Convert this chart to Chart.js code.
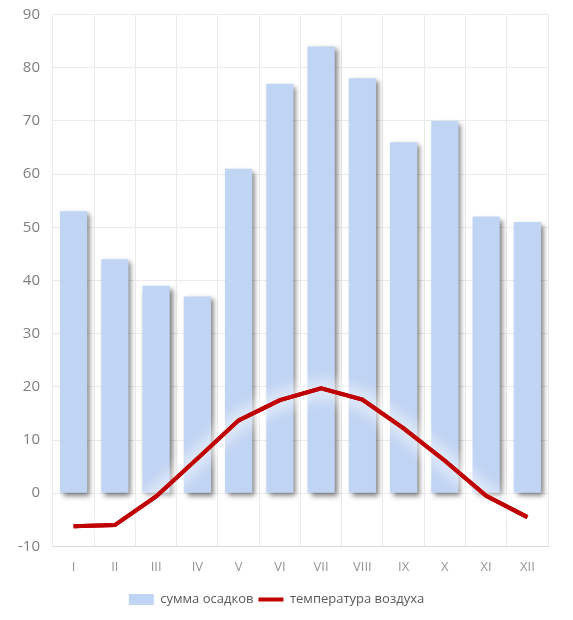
<!DOCTYPE html>
<html>
<head>
<meta charset="utf-8">
<script src="https://cdn.jsdelivr.net/npm/chart.js@4"></script>
<style>
  html, body { margin: 0; padding: 0; background: #fff; }
  #wrap { width: 573px; height: 620px; }
</style>
</head>
<body>
<div id="wrap"><canvas id="myChart" width="573" height="620"></canvas></div>
<script>
const months = ["I", "II", "III", "IV", "V", "VI", "VII", "VIII", "IX", "X", "XI", "XII"];
const precip = [53, 44, 39, 37, 61, 77, 84, 78, 66, 70, 52, 51];
const temp = [-6.2, -6.0, -0.6, 6.5, 13.7, 17.5, 19.7, 17.6, 12.2, 6.1, -0.5, -4.5];

// shadow under the bars, white glow round the line
const shadows = {
  id: "shadows",
  beforeDatasetDraw(chart, args) {
    const ctx = chart.ctx;
    ctx.save();
    if (args.meta.type === "bar") {
      ctx.shadowColor = "rgba(0,0,0,0.5)";
      ctx.shadowBlur = 5;
      ctx.shadowOffsetX = 3;
      ctx.shadowOffsetY = 3;
    } else {
      ctx.shadowColor = "rgba(255,255,255,1)";
      ctx.shadowBlur = 18;
      // extra passes make the glow stronger
      args.meta.controller.draw();
      args.meta.controller.draw();
    }
  },
  afterDatasetDraw(chart) {
    chart.ctx.restore();
  },
};

const ctx = document.getElementById("myChart");
var myChart = new Chart(ctx, {
  type: "bar",
  data: {
    labels: months,
    datasets: [
      {
        type: "bar",
        label: "сумма осадков",
        data: precip,
        backgroundColor: "#C0D4F4",
        borderColor: "#A8C0EC",
        borderWidth: 0, // a border clips the shadow away
        barPercentage: 0.66,
        categoryPercentage: 1,
        order: 2,
        pointStyle: "rect",
      },
      {
        type: "line",
        label: "температура воздуха",
        data: temp,
        borderColor: "#C00000",
        backgroundColor: "#C00000",
        borderWidth: 4,
        pointRadius: 0,
        tension: 0,
        order: 1,
        pointStyle: "line",
      },
    ],
  },
  options: {
    responsive: false,
    animation: false,
    layout: { padding: { left: 5, right: 25, top: 0, bottom: 4 } },
    scales: {
      y: {
        min: -10,
        max: 90,
        ticks: {
          stepSize: 10,
          color: "#7f7f7f",
          padding: 13,
          font: { family: "Open Sans", size: 15, lineHeight: 0.2 },
        },
        grid: { color: "#ebebeb", drawTicks: false },
        border: { display: false },
      },
      x: {
        ticks: {
          color: "#959595",
          padding: 13,
          font: { family: "Open Sans", size: 13 },
        },
        grid: { color: "#ebebeb", drawTicks: false },
        border: { color: "#d9d9d9" },
      },
    },
    plugins: {
      legend: {
        position: "bottom",
        labels: {
          usePointStyle: true,
          pointStyleWidth: 25,
          boxHeight: 11,
          color: "#595959",
          padding: 5,
          font: { family: "Open Sans", size: 13 },
          sort: (a, b) => a.datasetIndex - b.datasetIndex,
        },
      },
      tooltip: { enabled: false },
    },
  },
  plugins: [shadows],
});
</script>
</body>
</html>
